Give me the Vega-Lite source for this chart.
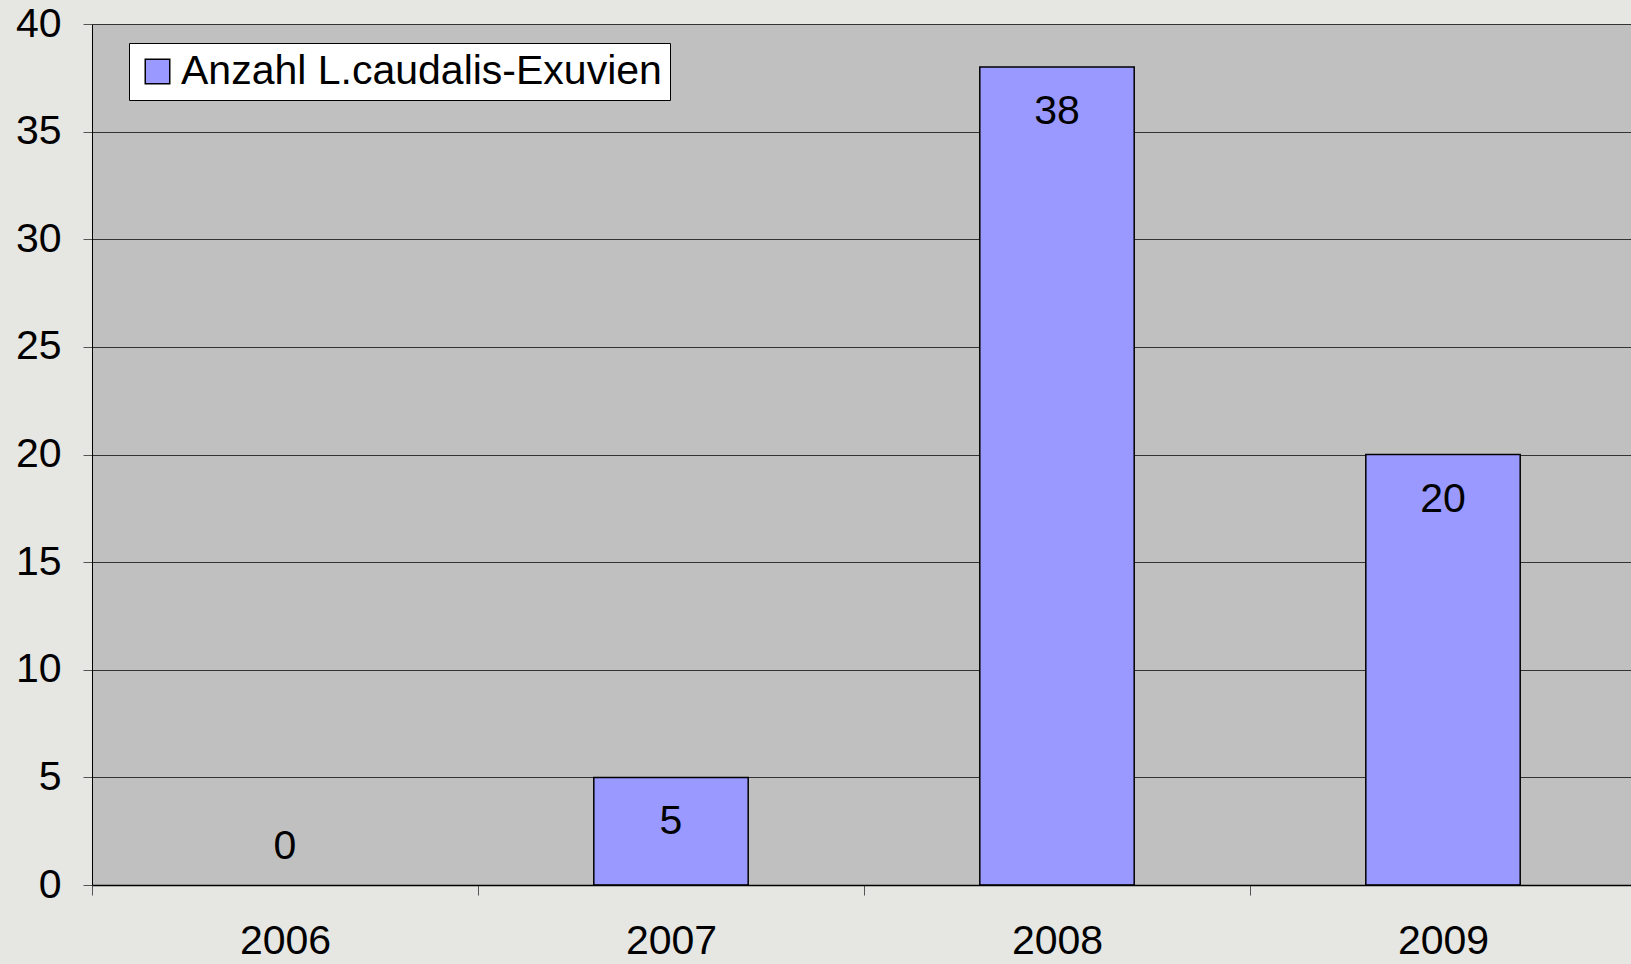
{
  "$schema": "https://vega.github.io/schema/vega-lite/v6.json",
  "width": 1544,
  "height": 861,
  "autosize": {"type": "none"},
  "padding": {"left": 92, "top": 24, "right": 0, "bottom": 79},
  "background": "#e6e6e2",
  "config": {
    "font": "Liberation Sans",
    "view": {"fill": "#c0c0c0", "stroke": null}
  },
  "data": {
    "values": [
      {"year": "2006", "n": 0, "series": "Anzahl L.caudalis-Exuvien"},
      {"year": "2007", "n": 5, "series": "Anzahl L.caudalis-Exuvien"},
      {"year": "2008", "n": 38, "series": "Anzahl L.caudalis-Exuvien"},
      {"year": "2009", "n": 20, "series": "Anzahl L.caudalis-Exuvien"}
    ]
  },
  "encoding": {
    "x": {
      "field": "year", "type": "nominal", "sort": null,
      "scale": {"paddingInner": 0, "paddingOuter": 0},
      "axis": {
        "title": null, "labelAngle": 0, "labelFontSize": 41, "labelColor": "#000",
        "labelPadding": 26, "tickBand": "extent", "tickSize": 10, "tickColor": "#555",
        "domainColor": "#000", "domainWidth": 1.5, "grid": false, "zindex": 1
      }
    },
    "y": {
      "field": "n", "type": "quantitative",
      "scale": {"domain": [0, 40], "nice": false},
      "axis": {
        "title": null, "values": [0, 5, 10, 15, 20, 25, 30, 35, 40],
        "labelFontSize": 41, "labelColor": "#000", "labelPadding": 22,
        "tickSize": 9, "tickColor": "#555", "domainColor": "#000",
        "grid": true, "gridColor": "#333", "gridWidth": 1, "gridOpacity": 1
      }
    }
  },
  "layer": [
    {
      "mark": {"type": "bar", "fill": "#9999ff", "stroke": "#000", "strokeWidth": 1.5, "width": {"band": 0.4}},
      "encoding": {
        "strokeOpacity": {"condition": {"test": "datum.n == 0", "value": 0}, "value": 1},
        "fill": {
          "field": "series", "type": "nominal",
          "scale": {"range": ["#9999ff"]},
          "legend": {
            "title": null, "orient": "none", "legendX": 37, "legendY": 19,
            "fillColor": "#ffffff", "strokeColor": "#000", "padding": 8,
            "symbolType": "square", "symbolSize": 600, "symbolStrokeColor": "#000",
            "symbolStrokeWidth": 1.5, "labelFontSize": 41, "labelColor": "#000",
            "labelLimit": 900, "labelOffset": 3
          }
        }
      }
    },
    {
      "transform": [{"filter": "datum.n > 0"}],
      "mark": {"type": "text", "fontSize": 41, "color": "#000", "dy": 45, "baseline": "middle"},
      "encoding": {"text": {"field": "n", "type": "quantitative"}}
    },
    {
      "transform": [{"filter": "datum.n == 0"}],
      "mark": {"type": "text", "fontSize": 41, "color": "#000", "dy": -38, "baseline": "middle"},
      "encoding": {"text": {"field": "n", "type": "quantitative"}}
    }
  ]
}
